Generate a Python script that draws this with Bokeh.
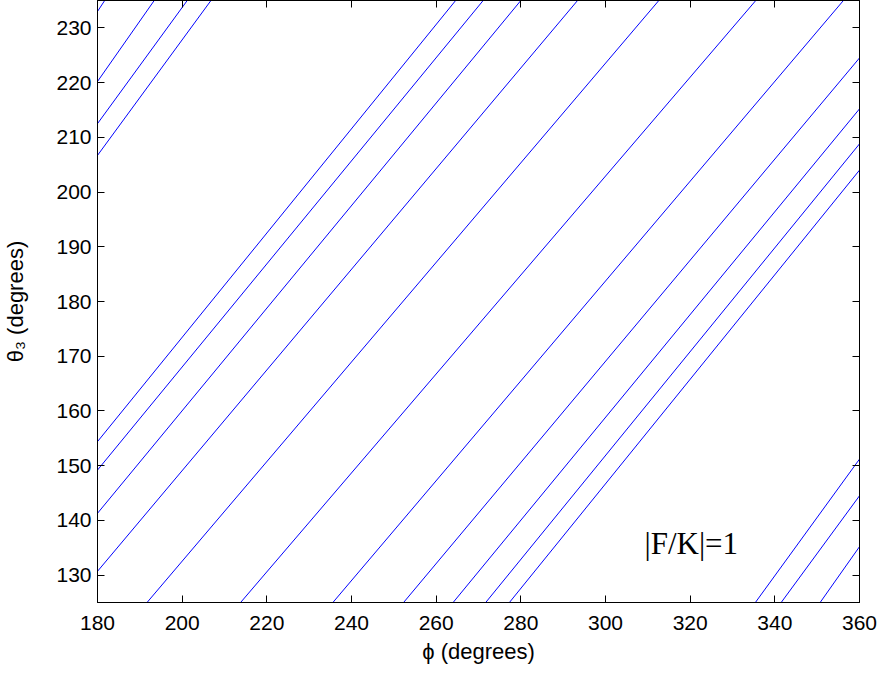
from bokeh.plotting import figure
from bokeh.models import FixedTicker, LinearAxis, Range1d, Label
from bokeh.embed import file_html
from bokeh.resources import INLINE

# Contour |F/K| = 1 : each branch read as start/end point (phi, theta3) in degrees
start_phi   = [180.0, 180.0, 180.0, 180.0,
               180.0, 180.0, 180.0, 180.0, 191.7, 213.8, 235.6,
               252.3, 264.0, 271.7, 277.3, 335.4, 341.5, 350.7]
start_theta = [233.0, 220.2, 212.5, 206.7,
               154.4, 149.2, 141.3, 130.7, 125.0, 125.0, 125.0,
               125.0, 125.0, 125.0, 125.0, 125.0, 125.0, 125.0]
end_phi     = [181.7, 193.4, 201.2, 206.8,
               264.6, 271.1, 280.0, 293.4, 312.6, 335.5, 356.2,
               360.0, 360.0, 360.0, 360.0, 360.0, 360.0, 360.0]
end_theta   = [235.0, 235.0, 235.0, 235.0,
               235.0, 235.0, 235.0, 235.0, 235.0, 235.0, 235.0,
               224.5, 215.2, 208.8, 204.0, 151.2, 144.5, 135.2]

x_ticks = [180, 200, 220, 240, 260, 280, 300, 320, 340, 360]
y_ticks = [130, 140, 150, 160, 170, 180, 190, 200, 210, 220, 230]
annotation = "|F/K|=1"
annot_phi, annot_theta = 309.2, 135.8

FONT = "Liberation Sans"

p = figure(width=877, height=669, output_backend="svg", toolbar_location=None,
           x_range=Range1d(180, 360), y_range=Range1d(125, 235),
           min_border_left=94, min_border_right=18, min_border_top=0, min_border_bottom=67)
p.grid.visible = False
p.outline_line_color = "black"
p.outline_line_width = 1
p.background_fill_color = "white"
p.border_fill_color = "white"

xs = [[a, b] for a, b in zip(start_phi, end_phi)]
ys = [[a, b] for a, b in zip(start_theta, end_theta)]
p.multi_line(xs, ys, line_color="#0000ff", line_width=1)

def style(ax, ticks, show):
    ax.ticker = FixedTicker(ticks=ticks)
    ax.major_tick_in = 7
    ax.major_tick_out = 0
    ax.minor_tick_in = 0
    ax.minor_tick_out = 0
    ax.axis_line_color = "black"
    ax.major_tick_line_color = "black"
    ax.major_label_text_font = FONT
    ax.axis_label_text_font = FONT
    ax.axis_label_text_font_style = "normal"
    ax.axis_label_text_color = "black"
    if show:
        ax.major_label_text_color = "black"
        ax.major_label_text_font_size = "21px"
        ax.axis_label_text_font_size = "22px"
    else:
        ax.major_label_text_color = None
        ax.major_label_text_font_size = "1px"
        ax.major_label_standoff = 0
        ax.axis_label = None

xa = p.xaxis[0]
style(xa, x_ticks, True)
xa.axis_label = "ϕ (degrees)"
xa.major_label_standoff = 13
xa.axis_label_standoff = 6

ya = p.yaxis[0]
style(ya, y_ticks, True)
ya.axis_label = "θ₃ (degrees)"
ya.major_label_standoff = 6
ya.axis_label_standoff = 25

top = LinearAxis()
style(top, x_ticks, False)
p.add_layout(top, "above")
right = LinearAxis()
style(right, y_ticks, False)
p.add_layout(right, "right")

p.add_layout(Label(x=annot_phi, y=annot_theta, text=annotation,
                   text_font="Liberation Serif", text_font_size="31px",
                   text_color="black", text_baseline="middle"))

open("out.html", "w").write(file_html(p, INLINE))
